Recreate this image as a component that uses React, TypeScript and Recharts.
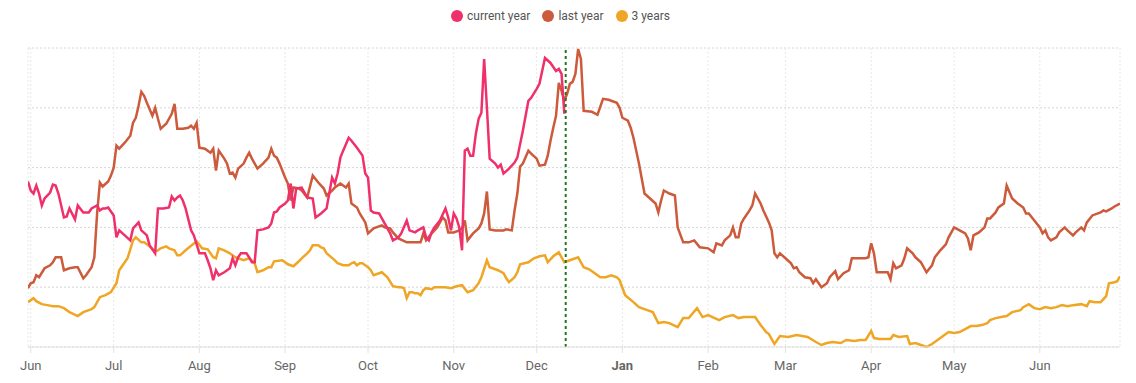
import React from 'react';
import {
  LineChart,
  Line,
  XAxis,
  YAxis,
  CartesianGrid,
  Legend,
  ReferenceLine,
} from 'recharts';

// day 0 = 1 Jun, values in the chart's own (unlabelled) units
const monthTicks = [0, 30, 61, 92, 122, 153, 183, 214, 245, 273, 304, 334, 365];
const monthLabels = ['Jun', 'Jul', 'Aug', 'Sep', 'Oct', 'Nov', 'Dec', 'Jan', 'Feb', 'Mar', 'Apr', 'May', 'Jun'];
const valueTicks = [0, 60, 120, 180, 240, 300];
const todayDay = 193.5;

const seriesNames = ['current year', 'last year', '3 years'];
const seriesColors = ['#f0306a', '#cc5a3b', '#efa624'];

const currentYear: [number, number][] = [
  [-1, 166], [0, 157], [1, 154], [2, 162], [3, 154], [4, 142], [5, 149], [7, 155], [8, 163], [9, 162],
  [10, 154], [12, 130], [13, 131], [14, 139], [16, 128], [17, 142], [19, 135], [21, 135], [22, 139], [24, 142],
  [25, 137], [26, 139], [27, 139], [28, 140], [30, 132], [31, 110], [32, 117], [34, 112], [36, 107], [37, 119],
  [39, 125], [40, 117], [42, 112], [43, 102], [45, 94], [46, 139], [48, 139], [50, 140], [51, 151], [52, 147],
  [53, 150], [54, 152], [55, 147], [56, 139], [58, 117], [59, 112], [61, 94], [63, 94], [64, 87], [65, 79],
  [66, 67], [67, 77], [68, 72], [70, 75], [72, 79], [73, 89], [74, 82], [75, 90], [76, 94], [78, 94],
  [79, 90], [80, 85], [81, 85], [82, 117], [84, 118], [86, 120], [87, 124], [88, 135], [89, 136], [90, 140],
  [92, 144], [93, 147], [94, 164], [95, 139], [96, 159], [98, 160], [100, 150], [102, 149], [103, 130], [105, 134],
  [107, 139], [109, 170], [110, 164], [111, 174], [112, 190], [113, 197], [115, 210], [116, 207], [118, 200], [120, 192],
  [121, 174], [122, 170], [123, 137], [124, 135], [126, 134], [127, 129], [128, 124], [130, 114], [131, 107], [133, 110],
  [134, 114], [136, 127], [137, 117], [139, 115], [140, 117], [142, 120], [143, 110], [144, 107], [145, 115], [146, 120],
  [148, 127], [150, 139], [151, 130], [152, 117], [153, 134], [154, 129], [155, 120], [156, 97], [157, 197], [158, 199],
  [159, 192], [160, 192], [161, 214], [162, 229], [163, 235], [164, 289], [165, 240], [166, 189], [168, 184], [169, 180],
  [170, 183], [171, 174], [173, 179], [175, 185], [176, 190], [178, 217], [180, 247], [181, 250], [183, 259], [184, 264],
  [186, 290], [188, 285], [190, 277], [191, 279], [192, 274], [193, 234],
];

const lastYear: [number, number][] = [
  [-1, 59], [0, 64], [1, 65], [2, 72], [3, 70], [5, 79], [7, 82], [8, 85], [9, 90], [11, 90],
  [12, 77], [14, 79], [16, 80], [17, 80], [19, 69], [20, 72], [22, 80], [23, 90], [24, 134], [25, 165],
  [26, 161], [28, 166], [29, 172], [30, 180], [31, 202], [32, 199], [34, 205], [36, 212], [37, 225], [38, 230],
  [39, 242], [40, 256], [41, 252], [42, 245], [44, 232], [45, 240], [46, 229], [47, 219], [49, 224], [51, 234],
  [52, 244], [53, 219], [55, 219], [57, 220], [58, 222], [59, 219], [60, 225], [61, 200], [63, 199], [65, 195],
  [66, 199], [67, 177], [68, 197], [70, 189], [71, 184], [72, 174], [73, 175], [74, 170], [75, 179], [77, 184],
  [78, 190], [79, 195], [80, 189], [82, 179], [84, 184], [86, 190], [87, 199], [88, 192], [89, 190], [90, 184],
  [92, 170], [93, 164], [94, 147], [95, 160], [97, 159], [98, 157], [100, 150], [102, 172], [104, 165], [106, 159],
  [107, 152], [109, 157], [110, 160], [112, 164], [114, 160], [115, 164], [116, 144], [118, 140], [119, 134], [121, 125],
  [122, 114], [124, 119], [127, 122], [128, 120], [130, 119], [131, 115], [133, 109], [136, 105], [138, 105], [141, 105],
  [142, 114], [143, 107], [145, 114], [147, 120], [149, 130], [150, 127], [151, 115], [153, 115], [155, 117], [156, 119],
  [157, 127], [158, 107], [160, 114], [162, 119], [163, 124], [164, 134], [165, 156], [166, 118], [168, 117], [171, 117],
  [172, 118], [174, 117], [175, 137], [176, 154], [177, 181], [178, 184], [180, 197], [181, 194], [183, 189], [184, 182],
  [186, 183], [187, 192], [188, 207], [189, 220], [190, 232], [191, 265], [192, 257], [193, 247], [194, 254], [195, 264],
  [196, 266], [197, 274], [198, 299], [199, 289], [200, 237], [203, 236], [205, 233], [207, 249], [209, 248], [212, 245],
  [213, 240], [214, 230], [216, 227], [217, 220], [218, 210], [220, 184], [222, 154], [224, 149], [226, 144], [227, 135],
  [228, 147], [229, 157], [231, 154], [233, 152], [234, 120], [236, 105], [238, 105], [240, 107], [242, 100], [245, 99],
  [247, 95], [248, 104], [250, 102], [251, 107], [253, 112], [254, 120], [255, 110], [256, 110], [257, 124], [258, 129],
  [260, 137], [261, 142], [262, 154], [264, 144], [265, 137], [267, 125], [268, 117], [269, 94], [270, 90], [271, 94],
  [273, 89], [275, 84], [276, 79], [277, 80], [278, 75], [280, 70], [282, 69], [283, 64], [284, 68], [286, 60],
  [288, 64], [289, 70], [291, 76], [292, 68], [294, 74], [296, 77], [297, 89], [299, 89], [302, 89], [303, 90],
  [304, 104], [305, 94], [306, 75], [308, 75], [310, 75], [311, 68], [312, 84], [313, 79], [315, 82], [316, 89],
  [317, 99], [319, 94], [320, 90], [322, 85], [323, 80], [324, 75], [326, 82], [327, 90], [329, 97], [331, 103],
  [332, 110], [333, 115], [334, 120], [336, 117], [338, 114], [339, 109], [340, 97], [341, 112], [343, 115], [345, 120],
  [346, 129], [347, 129], [349, 135], [350, 140], [352, 144], [353, 162], [355, 149], [357, 144], [359, 140], [360, 134],
  [361, 134], [363, 127], [365, 120], [366, 114], [367, 117], [368, 110], [369, 107], [371, 110], [372, 115], [374, 120],
  [375, 117], [377, 112], [378, 115], [380, 120], [381, 117], [382, 125], [384, 132], [386, 134], [387, 135], [388, 137],
  [389, 136], [391, 139], [392, 141], [394, 144],
];

const threeYears: [number, number][] = [
  [-1, 45], [1, 49], [2, 46], [4, 43], [6, 42], [8, 41], [10, 41], [12, 39], [14, 35], [17, 31],
  [19, 35], [22, 38], [23, 40], [25, 50], [27, 52], [29, 55], [31, 64], [32, 77], [34, 85], [35, 89],
  [36, 98], [37, 107], [38, 110], [40, 105], [41, 105], [43, 101], [45, 96], [46, 97], [47, 99], [49, 101],
  [50, 99], [52, 97], [53, 92], [54, 92], [56, 97], [60, 106], [62, 99], [64, 98], [66, 90], [67, 89],
  [68, 99], [70, 97], [72, 94], [74, 90], [75, 89], [77, 87], [79, 89], [81, 84], [82, 75], [84, 77],
  [86, 80], [87, 80], [88, 86], [91, 87], [93, 83], [95, 81], [97, 86], [98, 89], [100, 94], [101, 97],
  [102, 102], [104, 102], [105, 100], [106, 99], [107, 94], [110, 87], [111, 84], [113, 82], [115, 82], [116, 84],
  [117, 85], [118, 82], [119, 84], [120, 84], [121, 82], [122, 80], [123, 77], [124, 72], [126, 74], [127, 75],
  [129, 70], [131, 61], [133, 60], [134, 60], [135, 59], [136, 49], [137, 55], [138, 55], [139, 54], [140, 54],
  [141, 52], [142, 57], [143, 59], [145, 58], [146, 60], [148, 60], [150, 60], [152, 59], [154, 61], [156, 62],
  [158, 55], [160, 57], [162, 64], [163, 70], [165, 87], [166, 80], [169, 77], [171, 74], [172, 69], [173, 65],
  [175, 70], [176, 75], [177, 83], [180, 85], [182, 89], [184, 91], [186, 92], [187, 85], [189, 91], [191, 95],
  [193, 85], [195, 87], [198, 90], [200, 80], [202, 78], [204, 74], [206, 70], [208, 70], [210, 72], [212, 70],
  [213, 67], [215, 52], [218, 45], [220, 40], [223, 37], [225, 35], [227, 24], [229, 25], [231, 24], [234, 20],
  [236, 29], [238, 29], [241, 39], [243, 30], [245, 32], [249, 27], [251, 30], [254, 32], [256, 29], [258, 30],
  [262, 30], [264, 22], [266, 15], [267, 13], [269, 3], [271, 11], [274, 10], [277, 12], [281, 10], [284, 5],
  [286, 2], [288, 4], [290, 5], [293, 4], [295, 7], [298, 6], [300, 7], [302, 7], [304, 16], [305, 9],
  [307, 8], [311, 8], [312, 12], [314, 10], [317, 11], [318, 3], [320, 4], [322, 2], [324, 0], [326, 3],
  [327, 5], [329, 9], [331, 13], [332, 15], [334, 14], [336, 15], [338, 18], [340, 21], [342, 21], [344, 22],
  [346, 24], [347, 27], [349, 29], [351, 30], [353, 31], [355, 35], [358, 37], [359, 40], [361, 43], [363, 39],
  [365, 38], [367, 40], [369, 39], [371, 40], [373, 42], [375, 41], [377, 42], [380, 43], [382, 41], [383, 46],
  [385, 45], [387, 45], [389, 51], [390, 64], [392, 65], [393, 66], [394, 71],
];

const toRows = (pts: [number, number][]) => pts.map(([day, value]) => ({ day, value }));

const FONT = 'Roboto, "Liberation Sans", Arial, sans-serif';

const MonthTick = (props: any) => {
  const { x, y, payload, index } = props;
  const label = monthLabels[index] ?? '';
  return (
    <text
      x={x}
      y={y}
      dy='0.71em'
      textAnchor='middle'
      fill='#666'
      fontSize={13}
      fontFamily={FONT}
      fontWeight={label === 'Jan' ? 700 : 400}
      key={payload?.value}
    >
      {label}
    </text>
  );
};

const LegendContent = () => (
  <div
    style={{
      display: 'flex',
      justifyContent: 'center',
      gap: 12,
      paddingRight: 27,
      fontFamily: FONT,
      fontSize: 12,
      lineHeight: '16px',
      color: '#555',
    }}
  >
    {seriesNames.map((name, i) => (
      <span key={name} style={{ display: 'inline-flex', alignItems: 'center' }}>
        <svg width={12} height={12} style={{ marginRight: 4 }}>
          <circle cx={6} cy={6} r={6} fill={seriesColors[i]} />
        </svg>
        {name}
      </span>
    ))}
  </div>
);

export default function App() {
  return (
    <LineChart
      width={1120}
      height={375}
      margin={{ top: 0, right: 8, bottom: 6, left: 20 }}
    >
      <CartesianGrid vertical={false} stroke='#d6d6d6' strokeDasharray='2 2' />
      <CartesianGrid horizontal={false} stroke='#e8e8e8' strokeDasharray='2 2' />
      <XAxis
        type='number'
        dataKey='day'
        domain={[-1, 394]}
        ticks={monthTicks}
        interval={0}
        axisLine={{ stroke: '#e2e2e2' }}
        tickLine={{ stroke: '#e2e2e2' }}
        tickSize={6}
        tickMargin={8}
        tick={<MonthTick />}
        allowDataOverflow
      />
      <YAxis hide type='number' domain={[0, 300]} ticks={valueTicks} />
      <Legend verticalAlign='top' height={40} content={<LegendContent />} />
      <Line
        data={toRows(threeYears)}
        dataKey='value'
        name={seriesNames[2]}
        stroke={seriesColors[2]}
        strokeWidth={2.5}
        dot={false}
        activeDot={false}
        isAnimationActive={false}
      />
      <Line
        data={toRows(lastYear)}
        dataKey='value'
        name={seriesNames[1]}
        stroke={seriesColors[1]}
        strokeWidth={2.5}
        dot={false}
        activeDot={false}
        isAnimationActive={false}
      />
      <Line
        data={toRows(currentYear)}
        dataKey='value'
        name={seriesNames[0]}
        stroke={seriesColors[0]}
        strokeWidth={2.5}
        dot={false}
        activeDot={false}
        isAnimationActive={false}
      />
      <ReferenceLine
        x={todayDay}
        stroke='#1c7a1c'
        strokeWidth={2}
        strokeDasharray='3 3'
      />
    </LineChart>
  );
}
